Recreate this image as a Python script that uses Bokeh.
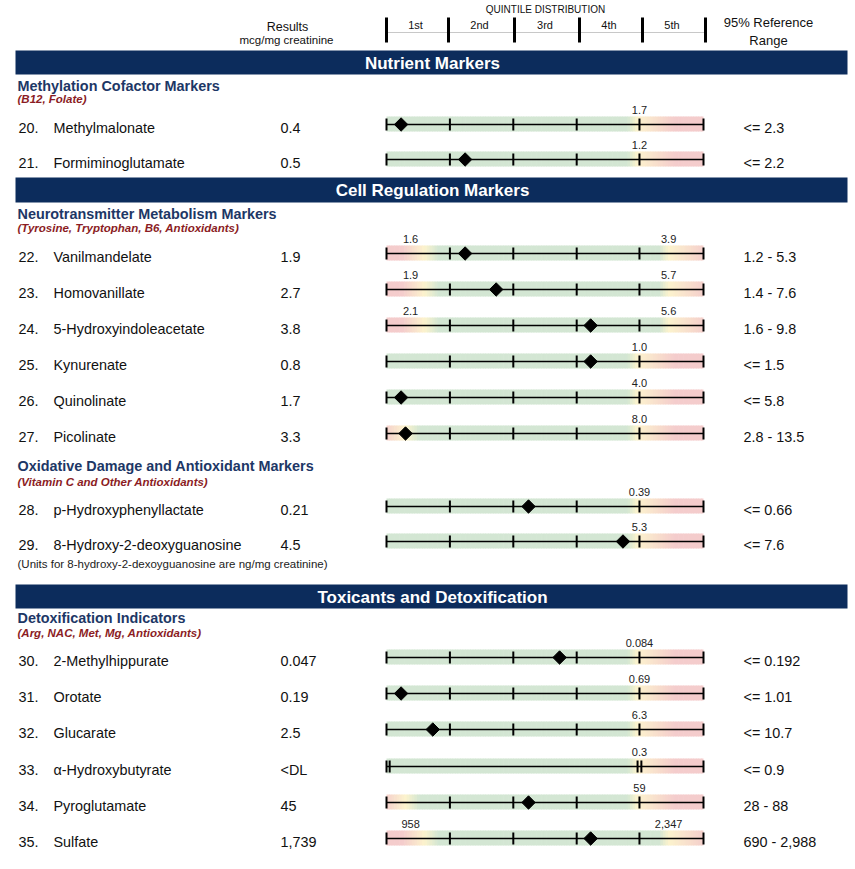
from bokeh.plotting import figure
from bokeh.models import Range1d
from bokeh.core.properties import value
from bokeh.embed import file_html
from bokeh.resources import INLINE
import math

# ---------------- data ----------------
numbers = ["20.", "21.", "22.", "23.", "24.", "25.", "26.", "27.", "28.", "29.",
           "30.", "31.", "32.", "33.", "34.", "35."]
names = ["Methylmalonate", "Formiminoglutamate", "Vanilmandelate", "Homovanillate",
         "5-Hydroxyindoleacetate", "Kynurenate", "Quinolinate", "Picolinate",
         "p-Hydroxyphenyllactate", "8-Hydroxy-2-deoxyguanosine",
         "2-Methylhippurate", "Orotate", "Glucarate", "\u03b1-Hydroxybutyrate",
         "Pyroglutamate", "Sulfate"]
results = ["0.4", "0.5", "1.9", "2.7", "3.8", "0.8", "1.7", "3.3", "0.21", "4.5",
           "0.047", "0.19", "2.5", "<DL", "45", "1,739"]
# position of the result inside the quintile distribution (0 = start of 1st, 5 = end of 5th)
quintile_pos = [0.23, 1.24, 1.24, 1.73, 3.22, 3.22, 0.23, 0.30, 2.24, 3.73,
                2.73, 0.23, 0.73, float("nan"), 2.24, 3.22]
low_labels = ["", "", "1.6", "1.9", "2.1", "", "", "", "", "", "", "", "", "", "", "958"]
high_labels = ["1.7", "1.2", "3.9", "5.7", "5.6", "1.0", "4.0", "8.0", "0.39", "5.3",
               "0.084", "0.69", "6.3", "0.3", "59", "2,347"]
ref_ranges = ["<= 2.3", "<= 2.2", "1.2 - 5.3", "1.4 - 7.6", "1.6 - 9.8", "<= 1.5",
              "<= 5.8", "2.8 - 13.5", "<= 0.66", "<= 7.6", "<= 0.192", "<= 1.01",
              "<= 10.7", "<= 0.9", "28 - 88", "690 - 2,988"]
sections = ["Nutrient Markers", "Cell Regulation Markers", "Toxicants and Detoxification"]
groups = ["Methylation Cofactor Markers", "Neurotransmitter Metabolism Markers",
          "Oxidative Damage and Antioxidant Markers", "Detoxification Indicators"]
group_notes = ["(B12, Folate)", "(Tyrosine, Tryptophan, B6, Antioxidants)",
               "(Vitamin C and Other Antioxidants)", "(Arg, NAC, Met, Mg, Antioxidants)"]
quintile_labels = ["1st", "2nd", "3rd", "4th", "5th"]
units_note = "(Units for 8-hydroxy-2-dexoyguanosine are ng/mg creatinine)"

# ---------------- layout ----------------
ROW_Y = [124, 159, 253, 289, 325, 361, 397, 433, 506, 541, 657, 693, 729, 766, 802, 838]
SECTION_Y = [(50, 74), (177, 202), (584, 608)]
GROUP_Y = [(85, 98), (213, 227), (465, 481), (617, 632)]
BAR_X0 = 386.0
QW = 63.4
W, H = 853, 867
FONT = value("Liberation Sans")

GREEN = (211, 230, 211)
YELLOW = (252, 243, 205)
PINK = (244, 204, 204)

p = figure(width=W, height=H, x_range=Range1d(0, W), y_range=Range1d(H, 0),
           output_backend="svg", toolbar_location=None, x_axis_type=None,
           y_axis_type=None, min_border=0, outline_line_color=None)
p.min_border_left = p.min_border_right = p.min_border_top = p.min_border_bottom = 0
p.grid.visible = False
p.background_fill_color = "white"
p.border_fill_color = "white"
p.extra_x_ranges = {"q": Range1d((0 - BAR_X0) / QW, (W - BAR_X0) / QW)}


def txt(x, y, s, size, color="#111111", align="left", style="normal", baseline="middle"):
    p.text(x=[x], y=[y], text=[s], text_font=FONT, text_font_size=size,
           text_color=color, text_align=align, text_baseline=baseline,
           text_font_style=style)


# ---------------- header ----------------
txt(287, 26, "Results", "12.5px", align="center")
txt(286, 39, "mcg/mg creatinine", "11.5px", align="center")
txt(545, 9, "QUINTILE DISTRIBUTION", "10px", align="center")
head_x = [386, 448, 514, 579, 642, 705]
p.segment(x0=[386], x1=[705], y0=[32], y1=[32], line_color="#c8c8c8", line_width=1)
p.segment(x0=head_x, x1=head_x, y0=[17] * 6, y1=[42] * 6, line_color="black", line_width=3)
for i, lab in enumerate(quintile_labels):
    txt((head_x[i] + head_x[i + 1]) / 2 - 2, 24, lab, "11px", align="center")
txt(768, 22, "95% Reference", "13px", align="center")
txt(768, 40, "Range", "13px", align="center")

# ---------------- section bars ----------------
for (y0, y1), s in zip(SECTION_Y, sections):
    p.quad(left=[15], right=[847], top=[y0], bottom=[y1], fill_color="#0c2c5c", line_color=None)
    txt(432, (y0 + y1) / 2 + 0.5, s, "17px", color="white", align="center", style="bold")

for (y0, y1), g, n in zip(GROUP_Y, groups, group_notes):
    txt(17, y0, g, "14.4px", color="#1d3766", style="bold")
    txt(17, y1, n, "11.5px", color="#8b1c24", style="bold italic")

txt(17, 563, units_note, "11.5px", color="#222222")


# ---------------- bands (gradient) ----------------
def mix(c1, c2, t):
    return tuple(c1[k] + (c2[k] - c1[k]) * t for k in range(3))


def color_at(q, stops):
    if q <= stops[0][0]:
        return stops[0][1]
    for (qa, ca), (qb, cb) in zip(stops[:-1], stops[1:]):
        if qa <= q <= qb:
            t = 0 if qb == qa else (q - qa) / (qb - qa)
            return mix(ca, cb, t)
    return stops[-1][1]


bl, br, bt, bb, bc = [], [], [], [], []
hl_x, ll_x = [], []
step = 0.04
for i, y in enumerate(ROW_Y):
    two = not ref_ranges[i].startswith("<=")
    has_low = low_labels[i] != ""
    yl = 0.6 if has_low else 0.3
    yr = 4.45 if has_low else 3.95
    stops = []
    if two:
        stops += [(0, PINK), (yl - 0.35, PINK), (yl, YELLOW), (yl + 0.22, GREEN)]
    else:
        stops += [(0, GREEN)]
    stops += [(yr - 0.15, GREEN), (yr, YELLOW), (yr + 0.6, PINK), (5.0, PINK)]
    n = int(round(5 / step))
    for k in range(n):
        q = k * step
        c = color_at(q + step / 2, stops)
        bl.append(q)
        br.append(min(5.0, q + step + 0.01))
        bt.append(y - 8)
        bb.append(y + 7)
        bc.append("#%02x%02x%02x" % tuple(int(round(v)) for v in c))
    hl_x.append(4.45 if has_low else 3.99)
    ll_x.append(0.38)

p.quad(left=bl, right=br, top=bt, bottom=bb, fill_color=bc, line_color=None, x_range_name="q")

# main lines
p.segment(x0=[0] * len(ROW_Y), x1=[5] * len(ROW_Y), y0=ROW_Y, y1=ROW_Y,
          line_color="black", line_width=1.6, x_range_name="q")

# ticks
tx, ty0, ty1 = [], [], []
for i, y in enumerate(ROW_Y):
    if math.isnan(quintile_pos[i]):
        qs = [0, 0.05, 3.96, 4.02, 5]
    else:
        qs = [0, 1, 2, 3, 3.99, 5]
    for q in qs:
        tx.append(q)
        ty0.append(y - 6)
        ty1.append(y + 6)
p.segment(x0=tx, x1=tx, y0=ty0, y1=ty1, line_color="black", line_width=2, x_range_name="q")

# result markers (diamond = square rotated 45 degrees)
mx = [q for q in quintile_pos if not math.isnan(q)]
my = [ROW_Y[i] for i, q in enumerate(quintile_pos) if not math.isnan(q)]
p.scatter(x=mx, y=my, marker="square", size=9.5, angle=math.pi / 4, fill_color="black",
          line_color="black", x_range_name="q")

# labels above bars
p.text(x=hl_x, y=[y - 15 for y in ROW_Y], text=high_labels, text_font=FONT,
       text_font_size="11px", text_color="#222222", text_align="center",
       text_baseline="middle", x_range_name="q")
lx = [ll_x[i] for i in range(len(ROW_Y)) if low_labels[i]]
ly = [ROW_Y[i] - 15 for i in range(len(ROW_Y)) if low_labels[i]]
lt = [s for s in low_labels if s]
p.text(x=lx, y=ly, text=lt, text_font=FONT, text_font_size="11px", text_color="#222222",
       text_align="center", text_baseline="middle", x_range_name="q")

# row texts
ty = [y + 3 for y in ROW_Y]
for xpos, col in [(18, numbers), (53, names), (280, results), (743, ref_ranges)]:
    p.text(x=[xpos] * len(col), y=ty, text=col, text_font=FONT, text_font_size="14.4px",
           text_color="#111111", text_align="left", text_baseline="middle")

open("out.html", "w").write(file_html(p, INLINE))
